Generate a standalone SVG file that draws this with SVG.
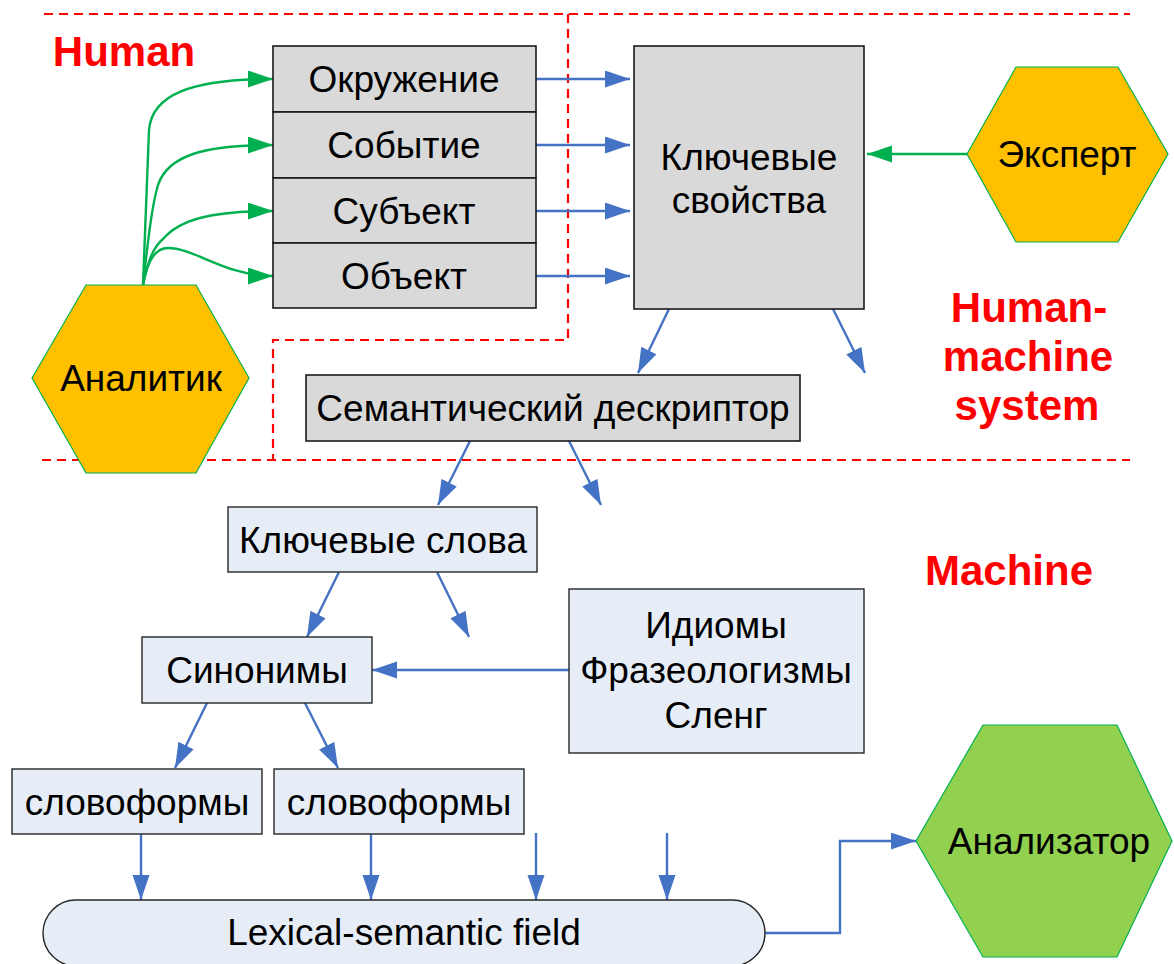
<svg xmlns="http://www.w3.org/2000/svg" width="1174" height="964" viewBox="0 0 1174 964">
  <style>
    .lbl { font-family: "Liberation Sans", Arial, sans-serif; font-size: 37px; fill: #000; text-anchor: middle; dominant-baseline: central; }
    .zone { font-family: "Liberation Sans", Arial, sans-serif; font-size: 42px; font-weight: bold; fill: #ff0000; text-anchor: middle; }
    .gray { fill: #d9d9d9; stroke: #1a1a1a; stroke-width: 1.6; }
    .pale { fill: #e6edf7; stroke: #262626; stroke-width: 1.4; }
    .hex-y { fill: #ffc000; stroke: #00b050; stroke-width: 1.2; }
    .hex-g { fill: #92d050; stroke: #00b050; stroke-width: 1.2; }
    .blue { fill: none; stroke: #4472c4; stroke-width: 2.4; marker-end: url(#ab); }
    .green { fill: none; stroke: #00b050; stroke-width: 2.4; marker-end: url(#ag); }
    .dash { fill: none; stroke: #ff0000; stroke-width: 2.2; stroke-dasharray: 9 6; }
  </style>
  <defs>
    <marker id="ab" markerUnits="userSpaceOnUse" markerWidth="26" markerHeight="18" refX="25" refY="8.5" orient="auto">
      <path d="M0,0 L25,8.5 L0,17 z" fill="#4472c4"/>
    </marker>
    <marker id="ag" markerUnits="userSpaceOnUse" markerWidth="26" markerHeight="18" refX="25" refY="8.5" orient="auto">
      <path d="M0,0 L25,8.5 L0,17 z" fill="#00b050"/>
    </marker>
  </defs>

  <rect width="1174" height="964" fill="#ffffff"/>

  <!-- zone boundaries -->
  <g id="zones">
    <path class="dash" d="M44,14 H1130"/>
    <path class="dash" d="M568,14 V340 H273 V460"/>
    <path class="dash" d="M42,460 H1130"/>
    <text class="zone" x="124" y="66">Human</text>
    <text class="zone" x="1029" y="322">Human-</text>
    <text class="zone" x="1028" y="371">machine</text>
    <text class="zone" x="1027" y="420">system</text>
    <text class="zone" x="1009" y="585">Machine</text>
  </g>

  <!-- connectors -->
  <g id="connectors">
    <path class="green" d="M143,285 C146,220 147,170 149,130 C152,95 190,79 273,79"/>
    <path class="green" d="M143,285 C148,240 152,205 158,185 C168,155 205,145 273,145"/>
    <path class="green" d="M143,285 C148,262 152,248 164,238 C180,220 210,211 273,211"/>
    <path class="green" d="M143,285 C147,262 155,248 168,248 C195,248 225,276 273,276"/>
    <path class="green" d="M967,154 H867"/>

    <path class="blue" d="M536,79 H630"/>
    <path class="blue" d="M536,145 H630"/>
    <path class="blue" d="M536,211 H630"/>
    <path class="blue" d="M536,276 H630"/>

    <path class="blue" d="M669,309 L638,373"/>
    <path class="blue" d="M833,309 L865,373"/>

    <path class="blue" d="M470,441 L438,505"/>
    <path class="blue" d="M569,441 L601,505"/>

    <path class="blue" d="M339,572 L307,637"/>
    <path class="blue" d="M437,572 L469,637"/>

    <path class="blue" d="M569,670 H372"/>

    <path class="blue" d="M207,703 L175,768"/>
    <path class="blue" d="M305,703 L338,768"/>

    <path class="blue" d="M141,834 V900"/>
    <path class="blue" d="M371,834 V900"/>
    <path class="blue" d="M536,833 V900"/>
    <path class="blue" d="M667,833 V900"/>

    <path class="blue" d="M765,933 H840 V841 H916"/>
  </g>

  <!-- nodes -->
  <g id="analyst">
    <polygon class="hex-y" points="32,378 86,285 196,285 249,378 196,473 86,473"/>
    <text class="lbl" x="141" y="378">Аналитик</text>
  </g>

  <g id="environment">
    <rect class="gray" x="273" y="46" width="263" height="66"/>
    <text class="lbl" x="404" y="79">Окружение</text>
  </g>
  <g id="event">
    <rect class="gray" x="273" y="112" width="263" height="66"/>
    <text class="lbl" x="404" y="145">Событие</text>
  </g>
  <g id="subject">
    <rect class="gray" x="273" y="178" width="263" height="65"/>
    <text class="lbl" x="404" y="211">Субъект</text>
  </g>
  <g id="object">
    <rect class="gray" x="273" y="243" width="263" height="65"/>
    <text class="lbl" x="404" y="276">Объект</text>
  </g>

  <g id="key-properties">
    <rect class="gray" x="634" y="46" width="230" height="263"/>
    <text class="lbl" x="749" y="157">Ключевые</text>
    <text class="lbl" x="749" y="200">свойства</text>
  </g>

  <g id="expert">
    <polygon class="hex-y" points="967,154 1016,67 1118,67 1168,154 1118,242 1016,242"/>
    <text class="lbl" x="1067" y="154">Эксперт</text>
  </g>

  <g id="semantic-descriptor">
    <rect class="gray" x="306" y="375" width="494" height="66"/>
    <text class="lbl" x="553" y="408">Семантический дескриптор</text>
  </g>

  <g id="keywords">
    <rect class="pale" x="228" y="507" width="309" height="65"/>
    <text class="lbl" x="383" y="540">Ключевые слова</text>
  </g>

  <g id="synonyms">
    <rect class="pale" x="142" y="637" width="230" height="66"/>
    <text class="lbl" x="257" y="670">Синонимы</text>
  </g>

  <g id="idioms">
    <rect class="pale" x="569" y="589" width="295" height="164"/>
    <text class="lbl" x="716" y="625">Идиомы</text>
    <text class="lbl" x="716" y="670">Фразеологизмы</text>
    <text class="lbl" x="716" y="715">Сленг</text>
  </g>

  <g id="wordforms-1">
    <rect class="pale" x="12" y="769" width="250" height="65"/>
    <text class="lbl" x="137" y="802">словоформы</text>
  </g>
  <g id="wordforms-2">
    <rect class="pale" x="274" y="769" width="250" height="65"/>
    <text class="lbl" x="399" y="802">словоформы</text>
  </g>

  <g id="lexical-field">
    <rect class="pale" x="43" y="900" width="722" height="66" rx="33" ry="33"/>
    <text class="lbl" x="404" y="932">Lexical-semantic field</text>
  </g>

  <g id="analyzer">
    <polygon class="hex-g" points="916,841 983,725 1117,725 1172,841 1117,957 983,957"/>
    <text class="lbl" x="1049" y="841">Анализатор</text>
  </g>
</svg>
